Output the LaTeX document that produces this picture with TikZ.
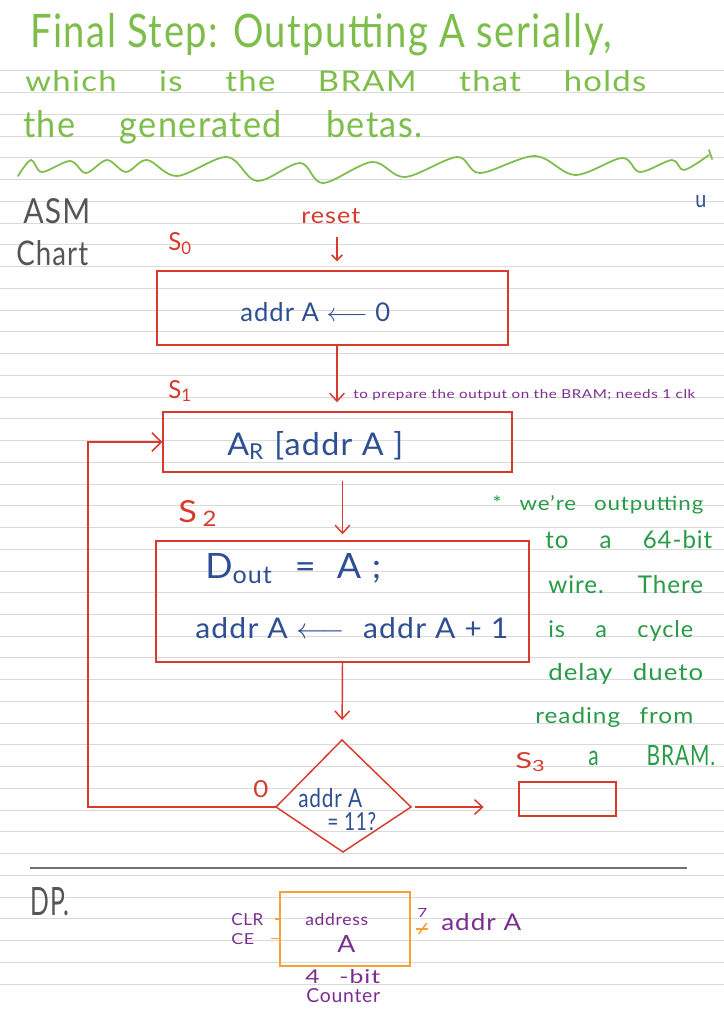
\documentclass[tikz,border=0pt]{standalone}
\usepackage{fontspec}
\setmainfont{Lato}[LetterSpace=4.0]
\usepackage{graphicx}
\usepackage{tikz}
\usetikzlibrary{arrows.meta}

\definecolor{inkgreen}{RGB}{125,190,75}
\definecolor{notegreen}{RGB}{40,155,70}
\definecolor{inkred}{RGB}{216,58,46}
\definecolor{inkblue}{RGB}{47,79,147}
\definecolor{inkpurple}{RGB}{122,46,142}
\definecolor{inkorange}{RGB}{244,162,54}
\definecolor{inkgrey}{RGB}{85,85,85}
\definecolor{rulegrey}{RGB}{218,218,218}
\definecolor{divgrey}{RGB}{112,112,112}

% one unit of the picture
\newlength\unitpx
\setlength\unitpx{0.75pt}
% text squeezed into its handwritten box: width, height, text
\newcommand\hw[3]{\resizebox{#1\unitpx}{#2\unitpx}{#3}}

\begin{document}
\begin{tikzpicture}[x=0.75pt,y=0.75pt,yscale=-1,xscale=1,
  ink/.style={inner sep=0pt, anchor=base west},
  redline/.style={draw=inkred, line width=1.1pt},
  flow/.style={redline, -{Straight Barb[length=6pt,width=11pt]}},
  asmbox/.style 2 args={draw=inkred, line width=1.1pt, inner sep=0pt,
    minimum width=#1*0.75pt, minimum height=#2*0.75pt},
  dpwire/.style={draw=inkorange, line width=1.1pt}]
\useasboundingbox (0,0) rectangle (724,1024);
\fill[white] (0,0) rectangle (724,1024);

%Ruled paper
\foreach \n in {0,...,42}
  \draw[rulegrey, line width=0.75pt] (0,{71+21.74*\n}) -- (724,{71+21.74*\n});

% Text Node
\node[ink, inkgreen] (ttlA) at (30,47) {\hw{582}{34}{Final Step: Outputting A serially,}};
% Text Node
\node[ink, inkgreen] (ttlB) at (25,92) {\hw{621}{21}{which \quad is \quad the \quad BRAM \quad that \quad holds}};
% Text Node
\node[ink, inkgreen] (ttlC) at (23,137) {\hw{399}{27}{the \quad generated \quad betas.}};

%Curve Lines
\draw[inkgreen, line width=1.3pt, line cap=round] plot[smooth, tension=0.55] coordinates {(18,176) (31,160) (42,172) (70,161) (86,173) (107,160) (126,172) (147,160) (177,176) (227,157) (257,181) (300,163) (323,183) (372,162) (405,177) (457,157) (480,173) (535,156) (575,175) (622,158) (640,172) (672,160) (684,170) (709,155)};
\draw[inkgreen, line width=1.3pt, line cap=round] (709,150) -- (712,159);

% Text Node
\node[ink, inkgrey] (asm) at (23,223) {\hw{67}{25}{ASM}};
% Text Node
\node[ink, inkgrey] (chart) at (16,265) {\hw{72}{25}{Chart}};
% Text Node
\node[ink, inkblue] (uu) at (695,207) {\hw{11}{12}{u}};

%State S0
\node[ink, inkred] (reset) at (301,223) {\hw{59}{15}{reset}};
\node[ink, inkred] (lbls0) at (168,250) {\hw{24}{18}{S\textsubscript{0}}};
\node[asmbox={351}{74}] (s0) at (332.5,308) {};
\node[ink, inkblue] (s0txt) at (240,321) {\hw{150}{19}{addr A $\longleftarrow$ 0}};

%State S1
\node[ink, inkred] (lbls1) at (168,398) {\hw{24}{18}{S\textsubscript{1}}};
\node[ink, inkpurple] (note) at (353,398) {\hw{342}{9}{to prepare the output on the BRAM; needs 1 clk}};
\node[asmbox={349}{60}] (s1) at (337.5,442) {};
\node[ink, inkblue] (s1txt) at (227,455) {\hw{176}{24}{A\textsubscript{R} [addr A ]}};

%State S2
\node[ink, inkred] (lbls2) at (178,522) {\hw{40}{22}{S\,\textsubscript{2}}};
\node[asmbox={373}{121}] (s2) at (342.5,601.5) {};
\node[ink, inkblue] (s2txtA) at (205,578) {\hw{176}{25}{D\textsubscript{out} \ = \ A ;}};
\node[ink, inkblue] (s2txtB) at (195,638) {\hw{313}{21}{addr A $\longleftarrow$ \ addr A + 1}};

%Decision
\coordinate (chkT) at (342,740);
\coordinate (chkR) at (411,807);
\coordinate (chkB) at (343,852);
\coordinate (chkL) at (276,807);
\draw[redline] (chkT) -- (chkR) -- (chkB) -- (chkL) -- cycle;
\node[ink, inkblue] (chkA) at (298,807) {\hw{64}{19}{addr A}};
\node[ink, inkblue] (chkQ) at (327,830) {\hw{49}{18}{= 11?}};
\node[ink, inkred] (zero) at (253,797) {\hw{15}{17}{0}};

%State S3
\node[ink, inkred] (lbls3) at (515,768) {\hw{31}{16}{S\textsubscript{3}}};
\node[asmbox={97}{34}] (s3) at (567.5,799) {};

%Straight Lines
\coordinate (a0) at (337,237);
\coordinate (loop) at (88,807);
\draw[flow, -{Straight Barb[length=4pt,width=8pt]}, shorten >=6.75pt] (a0) -- (a0 |- s0.north);
\draw[flow, shorten >=6.75pt] (s0.south -| a0) -- (s1.north -| a0);
\draw[flow, shorten <=6pt, shorten >=4.5pt] (s1.south -| s2.north) -- (s2.north);
\draw[flow, shorten >=15pt] (s2.south) -- (chkT);
\draw[flow, -{Straight Barb[length=7pt,width=14pt]}] (chkL) -- (loop) |- (s1.west);
\draw[flow, shorten <=3pt, shorten >=26pt] (chkR) -- (chkR -| s3.west);

%Side note
\node[ink, notegreen] (noteA) at (492,510) {\hw{211}{15}{* \enspace we're \enspace outputting}};
\node[ink, notegreen] (noteB) at (545,548) {\hw{167}{18}{to \quad a \quad 64-bit}};
\node[ink, notegreen] (noteC) at (548,593) {\hw{155}{18}{wire. \quad There}};
\node[ink, notegreen] (noteD) at (548,637) {\hw{145}{17}{is \quad a \quad cycle}};
\node[ink, notegreen] (noteE) at (548,680) {\hw{155}{17}{delay \enspace dueto}};
\node[ink, notegreen] (noteF) at (535,723) {\hw{158}{16}{reading \enspace from}};
\node[ink, notegreen] (noteG) at (588,765) {\hw{127}{20}{a \qquad BRAM.}};

%Divider
\draw[divgrey, line width=1.6pt] (30,868) -- (687,868);

%Datapath
\node[ink, inkgrey] (dp) at (30,915) {\hw{39}{28}{DP.}};
\node[draw=inkorange, line width=1.1pt, inner sep=0pt, minimum width=130*0.75pt, minimum height=74*0.75pt] (ctr) at (345,929) {};
\node[ink, inkpurple] (address) at (305,925) {\hw{63}{12}{address}};
\node[ink, inkpurple] (ctrA) at (337,952) {\hw{18}{17}{A}};
\node[ink, inkpurple] (clr) at (231,925) {\hw{32}{12}{CLR}};
\node[ink, inkpurple] (ce) at (231,944) {\hw{23}{11}{CE}};
\draw[dpwire] (clr.east) ++(11,0) -- (clr.east -| ctr.west);
\draw[dpwire] (ce.east) ++(16,0) -- (ce.east -| ctr.west);
\draw[dpwire] (ctr.east) ++(5,0) -- ++(12,0);
\draw[dpwire] (ctr.east) ++(8,5) -- ++(8,-11);
\node[ink, inkpurple] (busw) at (417,917) {\hw{10}{9}{7}};
\node[ink, inkpurple] (addrout) at (441,930) {\hw{80}{17}{addr A}};
\node[ink, inkpurple] (cntA) at (305,983) {\hw{75}{14}{4 \enspace -bit}};
\node[ink, inkpurple] (cntB) at (306,1002) {\hw{74}{14}{Counter}};

\end{tikzpicture}
\end{document}
